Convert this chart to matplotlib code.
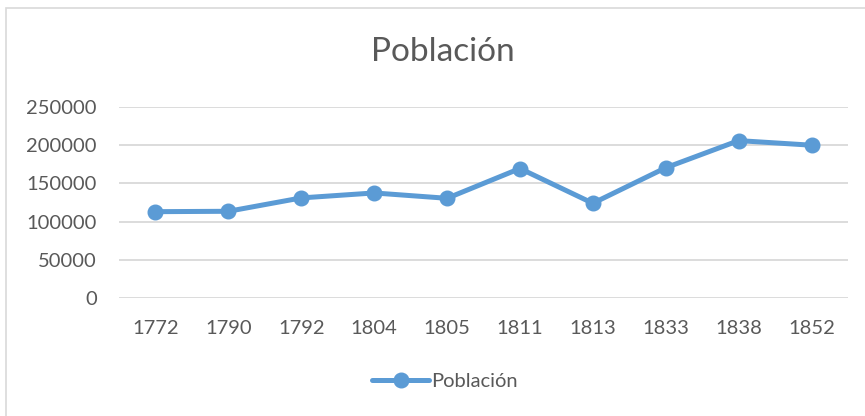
import matplotlib.pyplot as plt
from matplotlib.patches import Rectangle

years = ['1772', '1790', '1792', '1804', '1805', '1811', '1813', '1833', '1838', '1852']
poblacion = [113000, 113500, 131000, 137500, 130500, 169500, 124000, 170500, 206000, 200000]
yticks = [0, 50000, 100000, 150000, 200000, 250000]

text_col = '#595959'
grid_col = '#D9D9D9'
line_col = '#5B9BD5'

plt.rcParams['font.family'] = ['Lato', 'DejaVu Sans']

fig = plt.figure(figsize=(8.65, 4.16), dpi=100)
ax = fig.add_axes([119 / 865, 1 - 298 / 416, (848 - 119) / 865, (298 - 107) / 416])

# chart border
fig.patches.append(Rectangle((6 / 865, -0.1), 1.0, 1 - 8 / 416 + 0.1, transform=fig.transFigure,
                             fill=False, edgecolor=grid_col, linewidth=1.2))

x = list(range(len(years)))
ax.plot(x, poblacion, color=line_col, linewidth=3.6, marker='o', markersize=10.5,
        label='Población', solid_capstyle='round')

ax.set_xlim(-0.5, len(years) - 0.5)
ax.set_ylim(0, 250000)
ax.set_xticks(x)
ax.set_xticklabels(years)
ax.set_yticks(yticks)
ax.set_yticklabels([str(v) for v in yticks])
ax.tick_params(axis='both', length=0, labelsize=14.5, colors=text_col)
ax.tick_params(axis='y', pad=16)
ax.tick_params(axis='x', pad=16)
ax.grid(axis='y', color=grid_col, linewidth=1.3)
ax.set_axisbelow(True)
for s in ax.spines.values():
    s.set_visible(False)

fig.text(443 / 865, 1 - 52 / 416, 'Población', ha='center', va='center', fontsize=24, color=text_col)

leg = fig.legend(loc='center', bbox_to_anchor=(445 / 865, 1 - 381 / 416), frameon=False,
                 fontsize=14.5, handlelength=2.8, handletextpad=0.1)
for t in leg.get_texts():
    t.set_color(text_col)

fig.savefig('out.png', dpi=100)
